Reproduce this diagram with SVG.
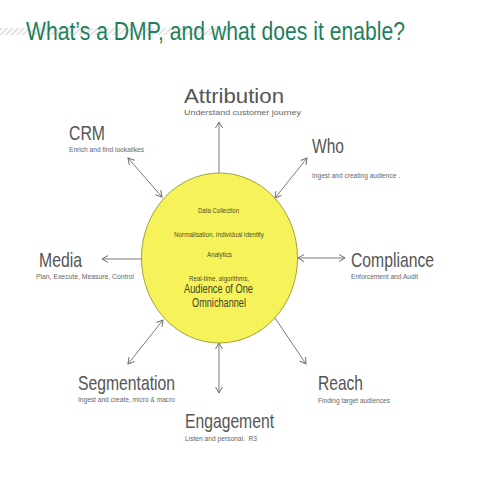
<svg xmlns="http://www.w3.org/2000/svg" width="480" height="480" viewBox="0 0 480 480">
<defs>
<style>
.t{font-family:"Liberation Sans Narrow","Liberation Sans",Arial,sans-serif;}
.big{font-size:21px;fill:#555;}
.sub{font-size:8px;fill:#666;}
.in{font-size:7px;fill:#4f4f2a;}
.in2{font-size:12px;fill:#3f3f20;}
.c{fill:none;stroke:#7a7a7a;stroke-width:1;}
</style>
<marker id="ah" viewBox="-8 -5 10 10" refX="0" refY="0" markerWidth="10" markerHeight="10" markerUnits="userSpaceOnUse" orient="auto-start-reverse">
<path d="M-6,-3.5 L0,0 L-6,3.5" fill="none" stroke="#6f6f6f" stroke-width="1"/>
</marker>
<pattern id="hatch" width="4" height="4" patternUnits="userSpaceOnUse" patternTransform="rotate(45)">
<rect width="1.6" height="4" fill="#dcdcdc"/>
</pattern>
</defs>
<rect width="480" height="480" fill="#fff"/>
<rect x="0" y="28" width="230" height="7" fill="url(#hatch)"/>
<text class="t" x="26" y="40" font-size="25" fill="#1f7f5c" textLength="379" lengthAdjust="spacingAndGlyphs">What’s a DMP, and what does it enable?</text>

<g id="connectors">
<line class="c" x1="219" y1="173" x2="219" y2="122" marker-end="url(#ah)"/>
<line class="c" x1="162" y1="197" x2="128" y2="158" marker-start="url(#ah)" marker-end="url(#ah)"/>
<line class="c" x1="275" y1="198" x2="307" y2="158" marker-start="url(#ah)" marker-end="url(#ah)"/>
<line class="c" x1="298" y1="258" x2="345" y2="258" marker-start="url(#ah)" marker-end="url(#ah)"/>
<line class="c" x1="142" y1="259" x2="102" y2="259" marker-end="url(#ah)"/>
<line class="c" x1="163" y1="320" x2="128" y2="364" marker-start="url(#ah)" marker-end="url(#ah)"/>
<line class="c" x1="219" y1="343" x2="219" y2="393" marker-start="url(#ah)" marker-end="url(#ah)"/>
<line class="c" x1="275" y1="318" x2="306" y2="364" marker-end="url(#ah)"/>
</g>

<g id="dmp">
<ellipse cx="219.5" cy="258" rx="78" ry="85" fill="#f6f35a" stroke="#a3a23a" stroke-width="1"/>
<text class="t in" x="218.5" y="213" text-anchor="middle" textLength="41" lengthAdjust="spacingAndGlyphs">Data Collection</text>
<text class="t in" x="219" y="237" text-anchor="middle" textLength="90" lengthAdjust="spacingAndGlyphs">Normalisation,  individual identity</text>
<text class="t in" x="219.5" y="257" text-anchor="middle" textLength="25" lengthAdjust="spacingAndGlyphs">Analytics</text>
<text class="t in" x="219" y="281" text-anchor="middle" textLength="60" lengthAdjust="spacingAndGlyphs">Real-time, algorithms,</text>
<text class="t in2" x="218.5" y="293" text-anchor="middle" textLength="69" lengthAdjust="spacingAndGlyphs">Audience of One</text>
<text class="t in2" x="219" y="307" text-anchor="middle" textLength="54" lengthAdjust="spacingAndGlyphs">Omnichannel</text>
</g>

<g id="attribution">
<text class="t big" x="184" y="103" textLength="100" lengthAdjust="spacingAndGlyphs">Attribution</text>
<text class="t sub" x="184" y="115" textLength="117" lengthAdjust="spacingAndGlyphs">Understand customer journey</text>
</g>
<g id="crm">
<text class="t big" x="69" y="140" textLength="36" lengthAdjust="spacingAndGlyphs">CRM</text>
<text class="t sub" x="69" y="152" textLength="75" lengthAdjust="spacingAndGlyphs">Enrich and find lookalikes</text>
</g>
<g id="who">
<text class="t big" x="312" y="153" textLength="32" lengthAdjust="spacingAndGlyphs">Who</text>
<text class="t sub" x="312" y="178" textLength="88" lengthAdjust="spacingAndGlyphs">Ingest and creating audience .</text>
</g>
<g id="compliance">
<text class="t big" x="351" y="267" textLength="83" lengthAdjust="spacingAndGlyphs">Compliance</text>
<text class="t sub" x="351" y="279" textLength="67" lengthAdjust="spacingAndGlyphs">Enforcement and Audit</text>
</g>
<g id="media">
<text class="t big" x="39" y="267" textLength="43" lengthAdjust="spacingAndGlyphs">Media</text>
<text class="t sub" x="36" y="279" textLength="98" lengthAdjust="spacingAndGlyphs">Plan, Execute, Measure, Control</text>
</g>
<g id="segmentation">
<text class="t big" x="78" y="390" textLength="97" lengthAdjust="spacingAndGlyphs">Segmentation</text>
<text class="t sub" x="78" y="402" textLength="97" lengthAdjust="spacingAndGlyphs">Ingest and create, micro &amp; macro</text>
</g>
<g id="engagement">
<text class="t big" x="185" y="428" textLength="89" lengthAdjust="spacingAndGlyphs">Engagement</text>
<text class="t sub" x="185" y="441" textLength="72" lengthAdjust="spacingAndGlyphs" xml:space="preserve">Listen and personal.  R3</text>
</g>
<g id="reach">
<text class="t big" x="318" y="390" textLength="45" lengthAdjust="spacingAndGlyphs">Reach</text>
<text class="t sub" x="318" y="403" textLength="72" lengthAdjust="spacingAndGlyphs">Finding target audiences</text>
</g>
</svg>
